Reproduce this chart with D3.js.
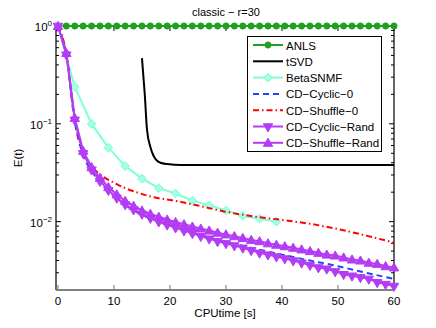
<!DOCTYPE html>
<html>
<head>
<meta charset="utf-8">
<script src="https://cdn.jsdelivr.net/npm/d3@7/dist/d3.min.js"></script>
<style>
  body { margin: 0; background: #fff; }
  svg text { font-family: "Liberation Sans", Arial, sans-serif; fill: #000; }
</style>
</head>
<body>
<svg id="svg"></svg>
<script>
// Chart data
const seriesNames = ["ANLS", "tSVD", "BetaSNMF", "CD−Cyclic−0", "CD−Shuffle−0", "CD−Cyclic−Rand", "CD−Shuffle−Rand"];

// iteration times shared by ANLS and the two random-init CD runs
const iterTimes = [0, 1.5, 3, 4.5, 6, 7.5, 9, 10.5, 12, 13.5, 15, 16.5, 18, 19.5, 21, 22.5, 24, 25.5, 27, 28.5,
    30, 31.5, 33, 34.5, 36, 37.5, 39, 40.5, 42, 43.5, 45, 46.5, 48, 49.5, 51, 52.5, 54, 55.5, 57, 58.5, 60];

const anlsValues = [1, 1, 1, 1, 1, 1, 1, 1, 1, 1, 1, 1, 1, 1, 1, 1, 1, 1, 1, 1,
    1, 1, 1, 1, 1, 1, 1, 1, 1, 1, 1, 1, 1, 1, 1, 1, 1, 1, 1, 1, 1];

const tsvdTimes = [15.0, 15.5, 15.9, 16.5, 17.0, 17.5, 18.3, 19.5, 22, 60];
const tsvdValues = [0.47, 0.2, 0.087, 0.058, 0.048, 0.043, 0.040, 0.0388, 0.038, 0.038];

const betaTimes = [0, 3, 6, 9, 12, 15, 18, 21, 24, 27, 30, 33, 36, 39];
const betaValues = [1, 0.239, 0.1, 0.057, 0.037, 0.0275, 0.022, 0.0194, 0.0164, 0.0146, 0.013, 0.0115, 0.0107, 0.010];

const cyc0Times = [0, 1.5, 3, 4.5, 6, 8, 10, 12, 15, 18, 21, 25, 30, 35, 40, 45, 50, 55, 60];
const cyc0Values = [1, 0.5, 0.105, 0.048, 0.033, 0.024, 0.0185, 0.0148, 0.0118, 0.0099, 0.0086, 0.0074, 0.0062,
    0.0053, 0.0046, 0.0040, 0.0035, 0.0030, 0.0026];

const shuf0Times = [0, 1.5, 3, 4.5, 6, 8, 10, 12, 14, 17, 21, 25, 30, 35, 40, 45, 50, 55, 60];
const shuf0Values = [1, 0.52, 0.11, 0.052, 0.037, 0.029, 0.025, 0.022, 0.020, 0.0178, 0.0163, 0.0146, 0.0126,
    0.0113, 0.0104, 0.0095, 0.0084, 0.0072, 0.0061];

const cycRandValues = [1, 0.51, 0.11, 0.05, 0.034, 0.026, 0.021, 0.0175, 0.015, 0.0133, 0.012, 0.0109, 0.010, 0.0093,
    0.0087, 0.0081, 0.0076, 0.0071, 0.0067, 0.0063, 0.0060, 0.0057, 0.0054, 0.0051, 0.0048, 0.0046, 0.0044, 0.0042,
    0.0040, 0.0038, 0.0036, 0.0034, 0.0033, 0.0031, 0.0029, 0.0028, 0.0027, 0.0026, 0.0024, 0.0023, 0.0022];

const shufRandValues = [1, 0.53, 0.115, 0.053, 0.036, 0.028, 0.0225, 0.019, 0.0163, 0.0145, 0.013, 0.012, 0.0112, 0.0105,
    0.0099, 0.0094, 0.0089, 0.0085, 0.0081, 0.0077, 0.0074, 0.0071, 0.0068, 0.0065, 0.0063, 0.0060, 0.0058, 0.0056,
    0.0054, 0.0052, 0.0050, 0.0048, 0.0046, 0.0045, 0.0043, 0.0041, 0.0040, 0.0038, 0.0037, 0.0035, 0.0034];

const xTickValues = [0, 10, 20, 30, 40, 50, 60];
const yTickExponents = [0, -1, -2];

// SVG dimensions
const width = 436, height = 328;
const plotLeft = 56, plotRight = 394, plotTop = 26, plotBottom = 290;

const svg = d3.select("#svg").attr("width", width).attr("height", height);

const x = d3.scaleLinear().domain([-0.35, 60]).range([plotLeft, plotRight]);
const y = d3.scaleLog().domain([0.002, 1]).range([plotBottom, plotTop]);

const zip = (ts, vs) => ts.map((t, i) => [t, vs[i]]);

// Styles per series
const styles = [
    { color: "#20a020", width: 2, dash: null, marker: "circle", data: zip(iterTimes, anlsValues) },
    { color: "#000000", width: 2, dash: null, marker: null, data: zip(tsvdTimes, tsvdValues), smooth: true },
    { color: "#7fffd4", width: 2, dash: null, marker: "diamond", data: zip(betaTimes, betaValues) },
    { color: "#2244ff", width: 2, dash: "6,4", marker: null, data: zip(cyc0Times, cyc0Values), smooth: true },
    { color: "#ff0000", width: 2, dash: "6,3,1.5,3", marker: null, data: zip(shuf0Times, shuf0Values), smooth: true },
    { color: "#b43cf5", width: 2, dash: null, marker: "down", data: zip(iterTimes, cycRandValues) },
    { color: "#b43cf5", width: 2, dash: null, marker: "up", data: zip(iterTimes, shufRandValues) }
];

function markerPath(kind) {
    if (kind === "circle") return d3.symbol().type(d3.symbolCircle).size(30)();
    if (kind === "diamond") return d3.symbol().type(d3.symbolSquare).size(34)();
    return d3.symbol().type(d3.symbolTriangle).size(38)();
}
function markerTransform(kind, px, py) {
    if (kind === "diamond") return "translate(" + px + "," + py + ") rotate(45)";
    if (kind === "down") return "translate(" + px + "," + py + ") rotate(180)";
    if (kind === "up") return "translate(" + px + "," + (py + 0.8) + ")";
    return "translate(" + px + "," + py + ")";
}
function markerFill(s) {
    if (s.marker === "diamond") return "#aaffe6";
    return s.color;
}

// Axes box (white background)
svg.append("rect")
    .attr("x", plotLeft).attr("y", plotTop)
    .attr("width", plotRight - plotLeft).attr("height", plotBottom - plotTop)
    .attr("fill", "#fff");

// Minor and major y ticks (both sides, pointing in)
const yMinor = [];
for (let e = -3; e <= 0; e++) {
    for (let m = 1; m <= 9; m++) {
        const v = m * Math.pow(10, e);
        if (v >= 0.002 && v <= 1) yMinor.push({ v: v, major: m === 1 });
    }
}
const ticks = svg.append("g").attr("stroke", "#000").attr("stroke-width", 1);
yMinor.forEach(d => {
    const len = d.major ? 5 : 3;
    ticks.append("line").attr("x1", plotLeft).attr("x2", plotLeft + len)
        .attr("y1", y(d.v)).attr("y2", y(d.v));
    ticks.append("line").attr("x1", plotRight).attr("x2", plotRight - len)
        .attr("y1", y(d.v)).attr("y2", y(d.v));
});
xTickValues.forEach(t => {
    ticks.append("line").attr("x1", x(t)).attr("x2", x(t))
        .attr("y1", plotBottom).attr("y2", plotBottom - 5).attr("stroke", "#777");
    ticks.append("line").attr("x1", x(t)).attr("x2", x(t))
        .attr("y1", plotTop).attr("y2", plotTop + 5);
});

// Spines
svg.append("line").attr("x1", plotLeft).attr("x2", plotLeft).attr("y1", plotTop).attr("y2", plotBottom)
    .attr("stroke", "#000").attr("stroke-width", 1.2);
svg.append("line").attr("x1", plotRight).attr("x2", plotRight).attr("y1", plotTop).attr("y2", plotBottom)
    .attr("stroke", "#000").attr("stroke-width", 1.2);
svg.append("line").attr("x1", plotLeft).attr("x2", plotRight).attr("y1", plotTop).attr("y2", plotTop)
    .attr("stroke", "#000").attr("stroke-width", 1.2);
svg.append("line").attr("x1", plotLeft).attr("x2", plotRight).attr("y1", plotBottom).attr("y2", plotBottom)
    .attr("stroke", "#808080").attr("stroke-width", 2);

// Series
styles.forEach(s => {
    const line = d3.line()
        .x(d => x(d[0]))
        .y(d => y(d[1]))
        .curve(s.smooth ? d3.curveMonotoneX : d3.curveLinear);
    svg.append("path")
        .datum(s.data)
        .attr("d", line)
        .attr("fill", "none")
        .attr("stroke", s.color)
        .attr("stroke-width", s.width)
        .attr("stroke-dasharray", s.dash)
        .attr("stroke-linejoin", "round");
    if (s.marker) {
        svg.append("g")
            .selectAll("path")
            .data(s.data)
            .enter()
            .append("path")
            .attr("d", markerPath(s.marker))
            .attr("transform", d => markerTransform(s.marker, x(d[0]), y(d[1])))
            .attr("fill", markerFill(s))
            .attr("stroke", s.color)
            .attr("stroke-width", 1);
    }
});

// Tick labels
xTickValues.forEach(t => {
    svg.append("text").attr("x", x(t)).attr("y", 305)
        .attr("text-anchor", "middle").attr("font-size", 11.5).text(t);
});
yTickExponents.forEach(e => {
    const ty = y(Math.pow(10, e));
    const txt = svg.append("text")
        .attr("x", 52).attr("y", ty + 5)
        .attr("text-anchor", "end").attr("font-size", 11.5);
    txt.append("tspan").text("10");
    txt.append("tspan").attr("dy", -5).attr("font-size", 8).text(e === 0 ? "0" : "−" + (-e));
});

// Axis titles
svg.append("text").attr("x", 225).attr("y", 317).attr("text-anchor", "middle")
    .attr("font-size", 11.5).text("CPUtime [s]");
svg.append("text").attr("transform", "translate(22,158) rotate(-90)")
    .attr("text-anchor", "middle").attr("font-size", 11.5).text("E(t)");
svg.append("text").attr("x", 226).attr("y", 16).attr("text-anchor", "middle")
    .attr("font-size", 11).text("classic − r=30");

// Legend
const legend = svg.append("g");
legend.append("rect")
    .attr("x", 247.5).attr("y", 36.5).attr("width", 134).attr("height", 115)
    .attr("fill", "#fff").attr("stroke", "#000").attr("stroke-width", 1);
styles.forEach((s, i) => {
    const ly = 45 + i * 16.3;
    legend.append("line")
        .attr("x1", 253).attr("x2", 283).attr("y1", ly).attr("y2", ly)
        .attr("stroke", s.color).attr("stroke-width", s.width)
        .attr("stroke-dasharray", s.dash);
    if (s.marker) {
        legend.append("path")
            .attr("d", markerPath(s.marker))
            .attr("transform", markerTransform(s.marker, 268, ly))
            .attr("fill", markerFill(s))
            .attr("stroke", s.color);
    }
    legend.append("text").attr("x", 286).attr("y", ly + 4.5)
        .attr("font-size", 11.5).text(seriesNames[i]);
});
</script>
</body>
</html>
